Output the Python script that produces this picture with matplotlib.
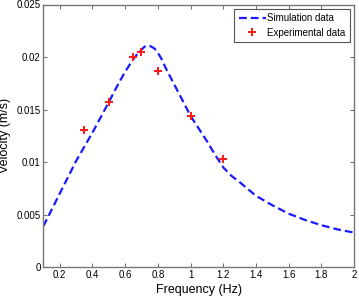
import matplotlib
matplotlib.use("Agg")
import matplotlib.pyplot as plt

# simulation curve
sim_freq = [0.1, 0.2, 0.3, 0.4, 0.5, 0.55, 0.6, 0.65, 0.68, 0.7, 0.72, 0.74,
            0.76, 0.78, 0.8, 0.82, 0.85, 0.9, 0.95, 1.0, 1.05, 1.1, 1.15, 1.2,
            1.25, 1.3, 1.4, 1.5, 1.6, 1.7, 1.8, 1.9, 2.0]
sim_vel = [0.0039, 0.0070, 0.0101, 0.0128, 0.0157, 0.0172, 0.0186, 0.0198,
           0.0204, 0.0207, 0.0210, 0.0211, 0.0210, 0.0208, 0.0204, 0.0199,
           0.0189, 0.0174, 0.0159, 0.0144, 0.0132, 0.0120, 0.0107, 0.0095,
           0.0087, 0.0081, 0.0068, 0.0059, 0.0051, 0.0045, 0.0040, 0.0036,
           0.0033]

# experimental points
exp_freq = [0.35, 0.5, 0.65, 0.7, 0.8, 1.0, 1.2]
exp_vel = [0.0131, 0.0157, 0.0200, 0.0205, 0.0187, 0.0144, 0.0103]

xticks = [0.2, 0.4, 0.6, 0.8, 1, 1.2, 1.4, 1.6, 1.8, 2]
xticklabels = ["0.2", "0.4", "0.6", "0.8", "1", "1.2", "1.4", "1.6", "1.8", "2"]
yticks = [0, 0.005, 0.01, 0.015, 0.02, 0.025]
yticklabels = ["0", "0.005", "0.01", "0.015", "0.02", "0.025"]

plt.rcParams['font.family'] = ['Liberation Sans', 'DejaVu Sans']

fig = plt.figure(figsize=(3.59, 3.0), dpi=100)
ax = fig.add_axes([0.1206, 0.109, 0.866, 0.876])

ax.plot(sim_freq, sim_vel, '--', color="#1a1aff", linewidth=1.6,
        dashes=(3.5, 1.8), label="Simulation data")
ax.plot(exp_freq, exp_vel, 'P', color="#ff1a1a", markersize=6,
        markeredgewidth=0, linestyle="none", label="Experimental data")

ax.set_xlim(0.1, 2)
ax.set_ylim(0, 0.025)
ax.set_xticks(xticks)
ax.set_xticklabels(xticklabels, fontsize=7)
ax.set_yticks(yticks)
ax.set_yticklabels(yticklabels, fontsize=7)
ax.tick_params(direction="in", top=True, right=True, length=3,
               width=0.6, color="#555555", pad=2)
for s in ax.spines.values():
    s.set_color("#777777")
    s.set_linewidth(1.0)

ax.set_xlabel("Frequency (Hz)", fontsize=9, labelpad=3)
ax.set_ylabel("Velocity (m/s)", fontsize=9, labelpad=4)

leg = ax.legend(loc="upper right", fontsize=7, fancybox=False,
                framealpha=1, edgecolor="#555555", borderpad=0.45,
                handlelength=2.8, handletextpad=0.15, labelspacing=0.45,
                borderaxespad=0.45)
leg.get_frame().set_linewidth(0.8)

fig.savefig("out.png", dpi=100)
plt.close(fig)
